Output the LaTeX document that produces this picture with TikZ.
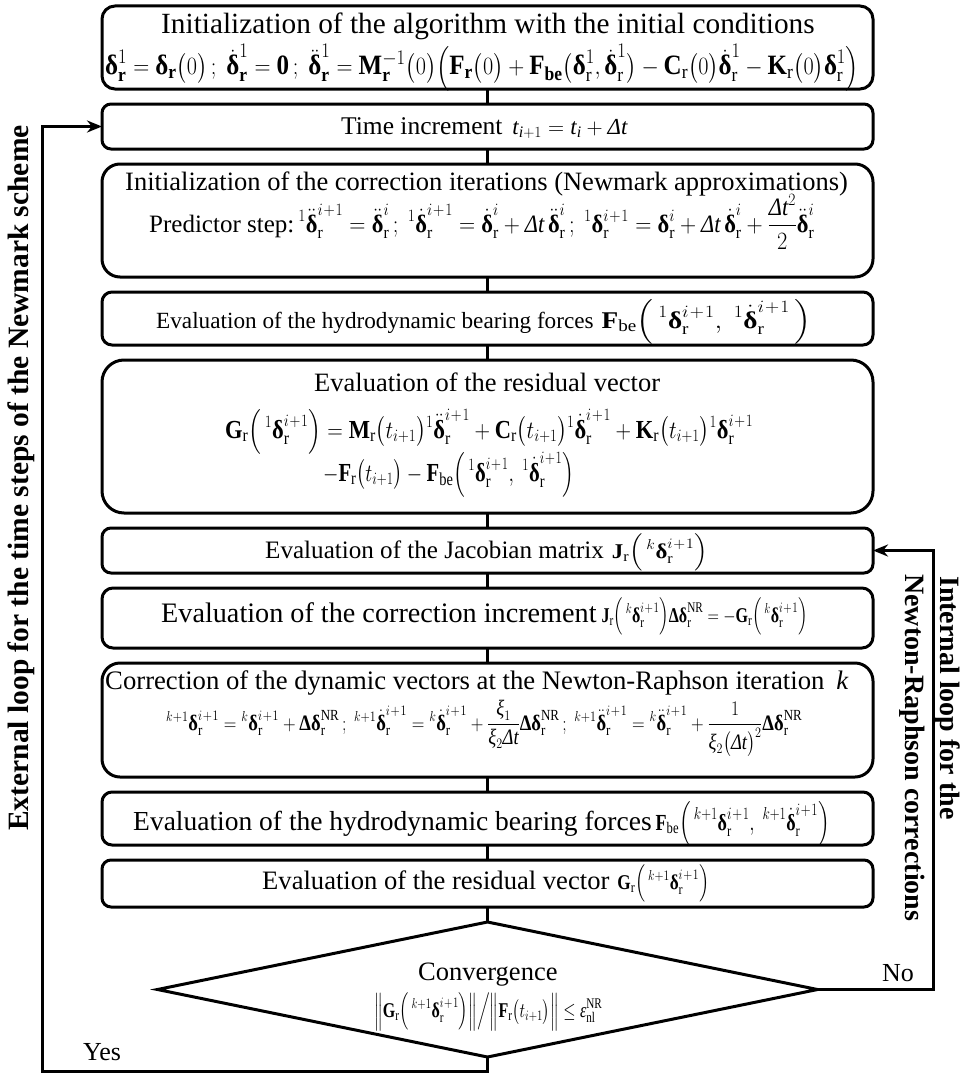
\documentclass[tikz,border=0pt]{standalone}
\usepackage{amsmath}
\usepackage{graphicx}
\usepackage{fontspec}
\setmainfont{Liberation Serif}
\usetikzlibrary{shapes.geometric,arrows.meta}
\newcommand{\vdl}{\text{\normalfont\bfseries δ}}
\newcommand{\vDl}{\text{\normalfont\bfseries Δ}}
\newcommand{\Dlt}{\text{\normalfont\itshape Δt}}
\newcommand{\vxi}{\text{\normalfont\itshape ξ}}
\newcommand{\myeps}{\text{\normalfont\itshape ε}}
\newcommand{\rr}{\mathrm{r}}
\newcommand{\ipo}{i\mkern1mu+\mkern1mu1}
\newcommand{\fw}[2]{\resizebox{#1}{!}{$\displaystyle #2$}}
\newcommand{\fwh}[3]{{\fontsize{#2pt}{#2pt}\selectfont\resizebox{#1}{\height}{$\displaystyle #3$}}}
\newcommand{\setfs}[1]{\fontsize{#1pt}{#1pt}\selectfont}
\tikzset{
  procbox/.style={draw, line width=3pt, rounded corners=#1, minimum width=771pt, inner sep=0pt, outer sep=0pt},
  decbox/.style={draw, diamond, line width=3pt, minimum width=660pt, minimum height=135pt, inner sep=0pt, outer sep=0pt},
  conn/.style={line width=3pt},
  looparrow/.style={line width=3pt, -{Stealth[length=15pt,width=12pt]}},
  txt/.style={inner sep=0pt, anchor=base west},
  sidelabel/.style={inner sep=0pt, font=\bfseries\setfs{#1}}
}
\begin{document}
\begin{tikzpicture}[x=1pt,y=-1pt]
\useasboundingbox (0,0) rectangle (962,1073);
% boxes
\node[procbox=13pt, minimum height=83pt]  (b1)  at (487.5,47.5)  {};
\node[procbox=9pt,  minimum height=45pt]  (b2)  at (487.5,126.5) {};
\node[procbox=18pt, minimum height=113pt] (b3)  at (487.5,220.5) {};
\node[procbox=10pt, minimum height=53pt]  (b4)  at (487.5,318.5) {};
\node[procbox=22pt, minimum height=153pt] (b5)  at (487.5,436.5) {};
\node[procbox=9pt,  minimum height=45pt]  (b6)  at (487.5,550.5) {};
\node[procbox=11pt, minimum height=60pt]  (b7)  at (487.5,618)   {};
\node[procbox=18pt, minimum height=114pt] (b8)  at (487.5,720)   {};
\node[procbox=10pt, minimum height=53pt]  (b9)  at (487.5,818.5) {};
\node[procbox=9pt,  minimum height=47pt]  (b10) at (487.5,883.5) {};
\node[decbox] (d) at (487.5,989.5) {};
% connectors
\draw[conn] (b1) -- (b2);
\draw[conn] (b2) -- (b3);
\draw[conn] (b3) -- (b4);
\draw[conn] (b4) -- (b5);
\draw[conn] (b5) -- (b6);
\draw[conn] (b6) -- (b7);
\draw[conn] (b7) -- (b8);
\draw[conn] (b8) -- (b9);
\draw[conn] (b9) -- (b10);
\draw[conn] (b10) -- (d);
% loops
\coordinate (ya) at (487.5,1071);
\coordinate (yb) at (42,1071);
\coordinate (yc) at (42,126.5);
\draw[looparrow] (d.south) -- (ya) -- (yb) -- (yc) -- (b2.west);
\coordinate (na) at (933,989.5);
\coordinate (nb) at (933,550.5);
\draw[looparrow] (d.east) -- (na) -- (nb) -- (b6.east);
% texts
\node[txt, font=\setfs{29.3}] (t1) at (161,34) {Initialization of the algorithm with the initial conditions};
\node[txt, font=\setfs{28}] (f1) at (105,75) {\fwh{754pt}{28}{\vdl_{\mathbf r}^{1}=\vdl_{\mathbf r}\bigl(0\bigr)\,;\ \dot{\vdl}_{\mathbf r}^{1}=\mathbf{0}\,;\ \ddot{\vdl}_{\mathbf r}^{1}=\mathbf{M}_{\mathbf r}^{-1}\bigl(0\bigr)\Bigl(\mathbf{F}_{\mathbf r}\bigl(0\bigr)+\mathbf{F}_{\mathbf{be}}\bigl(\vdl_{\rr}^{1},\dot{\vdl}_{\rr}^{1}\bigr)-\mathbf{C}_{\rr}\bigl(0\bigr)\dot{\vdl}_{\rr}^{1}-\mathbf{K}_{\rr}\bigl(0\bigr)\vdl_{\rr}^{1}\Bigr)}};
\node[txt, font=\setfs{25.5}] (t2) at (341,134) {Time increment\hspace{10pt}\fw{115pt}{\mathit{t}_{\mathit{i}+1}=\mathit{t}_{\mathit{i}}+\Dlt}};
\node[txt, font=\setfs{26.5}] (t3) at (125,190) {Initialization of the correction iterations (Newmark approximations)};
\node[txt, font=\setfs{25}] (f3) at (149,232) {Predictor step:\hspace{4pt}\fwh{516pt}{25}{{}^{1}\ddot{\vdl}_{\rr}^{\ipo}=\ddot{\vdl}_{\rr}^{i}\,;\ {}^{1}\dot{\vdl}_{\rr}^{\ipo}=\dot{\vdl}_{\rr}^{i}+\Dlt\,\ddot{\vdl}_{\rr}^{i}\,;\ {}^{1}\vdl_{\rr}^{\ipo}=\vdl_{\rr}^{i}+\Dlt\,\dot{\vdl}_{\rr}^{i}+\frac{\Dlt^{2}}{2}\ddot{\vdl}_{\rr}^{i}}};
\node[txt, font=\setfs{23.2}] (t4) at (156,328) {Evaluation of the hydrodynamic bearing forces\hspace{8pt}\fwh{210pt}{24}{\mathbf{F}_{\mathrm{be}}\Bigl(\,{}^{1}\vdl_{\rr}^{\ipo},\ {}^{1}\dot{\vdl}_{\rr}^{\ipo}\,\Bigr)}};
\node[txt, font=\setfs{26.5}] (t5) at (314,391) {Evaluation of the residual vector};
\node[txt, font=\setfs{26.5}] (f5a) at (225,438) {\fwh{528pt}{26}{\mathbf{G}_{\rr}\Bigl(\,{}^{1}\vdl_{\rr}^{\ipo}\Bigr)=\mathbf{M}_{\rr}\bigl(t_{i+1}\bigr){}^{1}\ddot{\vdl}_{\rr}^{\ipo}+\mathbf{C}_{\rr}\bigl(t_{i+1}\bigr){}^{1}\dot{\vdl}_{\rr}^{\ipo}+\mathbf{K}_{\rr}\bigl(t_{i+1}\bigr){}^{1}\vdl_{\rr}^{\ipo}}};
\node[txt, font=\setfs{26.5}] (f5b) at (323,481) {\fwh{251pt}{26}{-\mathbf{F}_{\rr}\bigl(t_{i+1}\bigr)-\mathbf{F}_{\mathrm{be}}\Bigl(\,{}^{1}\vdl_{\rr}^{\ipo},\ {}^{1}\dot{\vdl}_{\rr}^{\ipo}\Bigr)}};
\node[txt, font=\setfs{25.1}] (t6) at (265,558) {Evaluation of the Jacobian matrix\hspace{8pt}\fwh{96pt}{21}{\mathbf{J}_{\rr}\Bigl(\,{}^{k}\vdl_{\rr}^{\ipo}\Bigr)}};
\node[txt, font=\setfs{28.2}] (t7) at (161,622) {Evaluation of the correction increment\hspace{5pt}\fwh{206pt}{21}{\mathbf{J}_{\rr}\Bigl(\,{}^{k}\vdl_{\rr}^{\ipo}\Bigr)\vDl\vdl_{\rr}^{\mathrm{NR}}=-\mathbf{G}_{\rr}\Bigl(\,{}^{k}\vdl_{\rr}^{\ipo}\Bigr)}};
\node[txt, font=\setfs{26.7}] (t8) at (105,689) {Correction of the dynamic vectors at the Newton-Raphson iteration\hspace{12pt}\textit{k}};
\node[txt, font=\setfs{26.7}] (f8) at (166,730) {\fwh{636pt}{22}{{}^{k+1}\vdl_{\rr}^{\ipo}={}^{k}\vdl_{\rr}^{\ipo}+\vDl\vdl_{\rr}^{\mathrm{NR}}\,;\ {}^{k+1}\dot{\vdl}_{\rr}^{\ipo}={}^{k}\dot{\vdl}_{\rr}^{\ipo}+\frac{\vxi_{1}}{\vxi_{2}\Dlt}\vDl\vdl_{\rr}^{\mathrm{NR}}\,;\ {}^{k+1}\ddot{\vdl}_{\rr}^{\ipo}={}^{k}\ddot{\vdl}_{\rr}^{\ipo}+\frac{1}{\vxi_{2}\bigl(\Dlt\bigr)^{2}}\vDl\vdl_{\rr}^{\mathrm{NR}}}};
\node[txt, font=\setfs{27.5}] (t9) at (133,830) {Evaluation of the hydrodynamic bearing forces\hspace{4pt}\fwh{174pt}{23}{\mathbf{F}_{\mathrm{be}}\Bigl(\,{}^{k+1}\vdl_{\rr}^{\ipo},\ {}^{k+1}\dot{\vdl}_{\rr}^{\ipo}\Bigr)}};
\node[txt, font=\setfs{26.6}] (t10) at (262,889) {Evaluation of the residual vector\hspace{8pt}\fwh{92pt}{21}{\mathbf{G}_{\rr}\Bigl(\,{}^{k+1}\vdl_{\rr}^{\ipo}\Bigr)}};
\node[txt, font=\setfs{26.5}] (td) at (418,980) {Convergence};
\node[txt, font=\setfs{21}] (fd) at (374,1017) {\fwh{228pt}{21}{\Bigl\|\mathbf{G}_{\rr}\Bigl(\,{}^{k+1}\vdl_{\rr}^{\ipo}\Bigr)\Bigr\|\Big/\Bigl\|\mathbf{F}_{\rr}\bigl(t_{i+1}\bigr)\Bigr\|\le\myeps_{\mathrm{nl}}^{\mathrm{NR}}}};
\node[txt, font=\setfs{26}] (yes) at (83,1060) {Yes};
\node[txt, font=\setfs{26}] (no) at (882,981) {No};
% side labels
\node[sidelabel=29.5, rotate=90, anchor=base] (ll) at (28,478) {External loop for the time steps of the Newmark scheme};
\node[sidelabel=28, rotate=-90, anchor=base west] (rl1) at (940,576) {Internal loop for the};
\node[sidelabel=28, rotate=-90, anchor=base west] (rl2) at (905,574) {Newton-Raphson corrections};
\end{tikzpicture}
\end{document}
